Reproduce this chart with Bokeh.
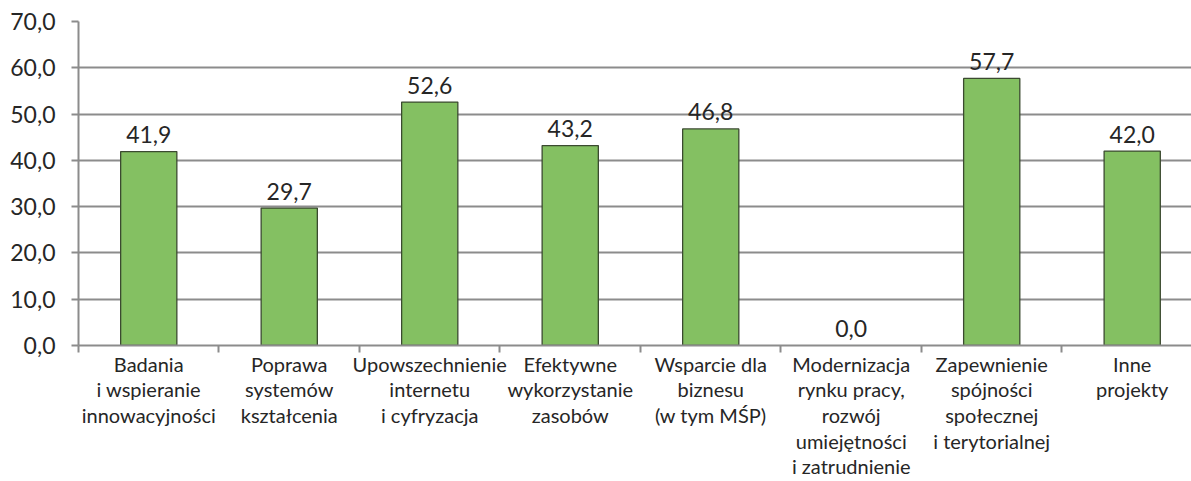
from bokeh.plotting import figure
from bokeh.models import Range1d, FixedTicker, ColumnDataSource
from bokeh.core.properties import value
from bokeh.embed import file_html
from bokeh.resources import INLINE

categories = [
    "Badania\ni wspieranie\ninnowacyjności",
    "Poprawa\nsystemów\nkształcenia",
    "Upowszechnienie\ninternetu\ni cyfryzacja",
    "Efektywne\nwykorzystanie\nzasobów",
    "Wsparcie dla\nbiznesu\n(w tym MŚP)",
    "Modernizacja\nrynku pracy,\nrozwój\numiejętności\ni zatrudnienie",
    "Zapewnienie\nspójności\nspołecznej\ni terytorialnej",
    "Inne\nprojekty",
]
values = [41.9, 29.7, 52.6, 43.2, 46.8, 0.0, 57.7, 42.0]
y_ticks = [0, 10, 20, 30, 40, 50, 60, 70]

FONT = "Lato"
TXT = "#262626"
GRID = "#8c8c8c"

n = len(categories)
xs = [i + 0.5 for i in range(n)]
labels = [f"{v:.1f}".replace(".", ",") for v in values]
outline_alpha = [1.0 if v > 0 else 0.0 for v in values]
src = ColumnDataSource(dict(x=xs, top=values, label=labels, la=outline_alpha))

p = figure(width=1191, height=481, output_backend="svg", toolbar_location=None,
           x_range=Range1d(0, 7.922), y_range=Range1d(0, 70),
           min_border_left=78, min_border_top=21, min_border_right=0, min_border_bottom=135)
p.outline_line_color = None
p.background_fill_color = "white"
p.border_fill_color = "white"

p.vbar(x="x", top="top", width=0.4, source=src, fill_color="#84c062",
       line_color="#3b4a30", line_width=1.3, line_alpha="la")

p.text(x="x", y="top", text="label", source=src, text_font=value(FONT),
       text_font_size="23px", text_color=TXT, text_align="center",
       text_baseline="alphabetic", y_offset=-17)

# y axis
p.yaxis.ticker = FixedTicker(ticks=y_ticks)
p.yaxis.major_label_overrides = {t: f"{t:.1f}".replace(".", ",") for t in y_ticks}
p.yaxis.major_label_text_font = FONT
p.yaxis.major_label_text_font_size = "23px"
p.yaxis.major_label_text_color = TXT
p.yaxis.major_label_standoff = 16
p.yaxis.axis_line_color = GRID
p.yaxis.axis_line_width = 2
p.yaxis.major_tick_line_color = GRID
p.yaxis.major_tick_line_width = 2
p.yaxis.major_tick_out = 7
p.yaxis.major_tick_in = 0
p.yaxis.minor_tick_line_color = None

p.ygrid.grid_line_color = GRID
p.ygrid.grid_line_width = 2
p.xgrid.grid_line_color = None

# x axis: labels at category centres, ticks at category boundaries
p.xaxis.ticker = FixedTicker(ticks=xs, minor_ticks=list(range(n + 1)))
p.xaxis.major_label_overrides = {x: c for x, c in zip(xs, categories)}
p.xaxis.major_label_text_font = FONT
p.xaxis.major_label_text_font_size = "20px"
p.xaxis.major_label_text_color = TXT
p.xaxis.major_label_text_line_height = 1.07
p.xaxis.major_label_standoff = -1
p.xaxis.major_tick_line_color = None
p.xaxis.major_tick_out = 0
p.xaxis.major_tick_in = 0
p.xaxis.minor_tick_line_color = GRID
p.xaxis.minor_tick_line_width = 2
p.xaxis.minor_tick_out = 7
p.xaxis.minor_tick_in = 0
p.xaxis.axis_line_color = GRID
p.xaxis.axis_line_width = 2

open("out.html", "w").write(file_html(p, INLINE))
